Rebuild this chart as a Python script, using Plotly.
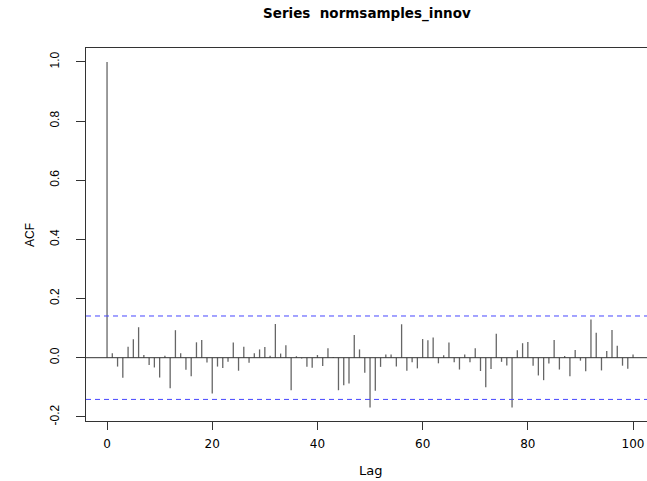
import plotly.graph_objects as go

lags = list(range(0, 101))
acf_values = [
    1.0, 0.015, -0.03, -0.068, 0.037, 0.062, 0.103, 0.009, -0.025, -0.033,
    -0.067, 0.007, -0.103, 0.093, 0.015, -0.041, -0.063, 0.052, 0.06, -0.016,
    -0.121, -0.03, -0.035, -0.014, 0.051, -0.044, 0.037, -0.017, 0.015, 0.028,
    0.036, 0.007, 0.114, 0.014, 0.042, -0.11, 0.005, -0.003, -0.031, -0.034,
    0.009, -0.028, 0.032, 0.002, -0.11, -0.093, -0.087, 0.077, 0.028, -0.051,
    -0.168, -0.112, -0.031, 0.011, 0.011, -0.03, 0.113, -0.044, -0.015, -0.036,
    0.063, 0.059, 0.068, -0.019, 0.008, 0.051, -0.015, -0.04, 0.011, -0.015,
    0.032, -0.045, -0.1, -0.038, 0.081, -0.014, -0.026, -0.168, 0.025, 0.049,
    0.053, -0.027, -0.06, -0.076, -0.02, 0.06, -0.04, 0.006, -0.063, 0.026,
    -0.01, -0.046, 0.129, 0.084, -0.043, 0.023, 0.094, 0.04, -0.027, -0.037,
    0.011,
]
ci_limit = 0.141
x_ticks = [0, 20, 40, 60, 80, 100]
y_ticks = [-0.2, 0.0, 0.2, 0.4, 0.6, 0.8, 1.0]
title_text = "Series\u00a0 normsamples_innov"

W, H = 647, 481
L, R, T, B = 86, 0, 48, 60
PW, PH = W - L - R, H - T - B

def px_x(p):
    return (p - L) / PW

def px_y(p):
    return (H - B - p) / PH

bx, by = [], []
for lag, v in zip(lags, acf_values):
    bx += [lag, lag, None]
    by += [0, v, None]

fig = go.Figure()
fig.add_trace(go.Scatter(x=bx, y=by, mode="lines",
                         line=dict(color="#666666", width=1.3),
                         hoverinfo="skip", showlegend=False))

wide_font = "DejaVu Sans, Verdana, sans-serif"
narrow_font = "Liberation Sans, Arial, Helvetica, sans-serif"
ci_color = "rgb(70,70,255)"

fig.update_layout(
    width=W, height=H,
    margin=dict(l=L, r=R, t=T, b=B, pad=0),
    plot_bgcolor="white", paper_bgcolor="white",
    font=dict(family=wide_font, size=12, color="black"),
    showlegend=False,
    shapes=[
        dict(type="line", xref="paper", x0=0, x1=1, yref="y", y0=0, y1=0,
             line=dict(color="#333333", width=1)),
        dict(type="line", xref="paper", x0=0, x1=1, yref="y", y0=ci_limit, y1=ci_limit,
             line=dict(color=ci_color, width=1, dash="5px,4px")),
        dict(type="line", xref="paper", x0=0, x1=1, yref="y", y0=-ci_limit, y1=-ci_limit,
             line=dict(color=ci_color, width=1, dash="5px,4px")),
    ],
    annotations=[
        dict(text="<b>" + title_text + "</b>", xref="paper", yref="paper",
             x=px_x(367), y=px_y(14), xanchor="center", yanchor="middle",
             showarrow=False, font=dict(size=13.5, family=wide_font)),
        dict(text="ACF", xref="paper", yref="paper", x=px_x(30), y=px_y(235),
             xanchor="center", yanchor="middle", textangle=-90,
             showarrow=False, font=dict(size=12, family=narrow_font)),
        dict(text="Lag", xref="paper", yref="paper", x=px_x(370), y=px_y(470),
             xanchor="center", yanchor="middle",
             showarrow=False, font=dict(size=13, family=wide_font)),
    ],
)

fig.update_xaxes(range=[-4, -4 + PW / 5.26], tickvals=x_ticks,
                 ticktext=[str(t) for t in x_ticks],
                 showgrid=False, zeroline=False, showline=True, linecolor="#333333",
                 linewidth=1, mirror=True, ticks="outside", ticklen=8,
                 tickcolor="#333333", tickfont=dict(size=12, family=wide_font),
                 ticklabelstandoff=4)
fig.update_yaxes(range=[-0.214, 1.047], tickvals=y_ticks,
                 ticktext=["%.1f" % t for t in y_ticks],
                 showgrid=False, zeroline=False, showline=True, linecolor="#333333",
                 linewidth=1, ticks="outside", ticklen=9, tickcolor="#333333",
                 tickangle=-90, tickfont=dict(size=12, family=narrow_font),
                 ticklabelstandoff=12)

fig.write_html("out.html", config={"displayModeBar": False},
               post_script="document.body.style.margin='0';document.body.style.overflow='hidden';")
